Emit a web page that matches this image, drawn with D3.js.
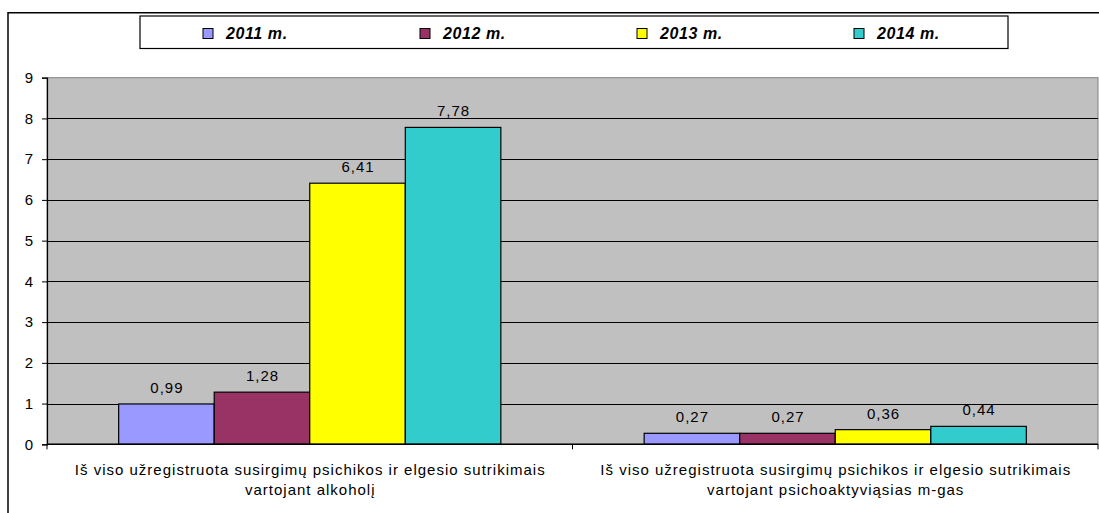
<!DOCTYPE html>
<html>
<head>
<meta charset="utf-8">
<script src="https://cdn.jsdelivr.net/npm/d3@7"></script>
<style>
  html, body { margin: 0; padding: 0; background: #fff; }
  svg { display: block; font-family: "Liberation Sans", Arial, sans-serif; }
</style>
</head>
<body>
<svg id="chart" width="1099" height="513"></svg>
<script>
const categories = [
  ["Iš viso užregistruota susirgimų psichikos ir elgesio sutrikimais", "vartojant alkoholį"],
  ["Iš viso užregistruota susirgimų psichikos ir elgesio sutrikimais", "vartojant psichoaktyviąsias m-gas"]
];
const seriesNames = ["2011 m.", "2012 m.", "2013 m.", "2014 m."];
const values2011 = [0.99, 0.27];
const values2012 = [1.28, 0.27];
const values2013 = [6.41, 0.36];
const values2014 = [7.78, 0.44];
const seriesColors = ["#9999FF", "#993366", "#FFFF00", "#33CCCC"];
const yTicks = [0, 1, 2, 3, 4, 5, 6, 7, 8, 9];

const seriesValues = [values2011, values2012, values2013, values2014];
const svg = d3.select("#chart");
const LS = 1.0; // letter spacing
const FS = 15;  // font size

// outer frame
svg.append("path")
  .attr("d", "M8,513 L8,12.7 L1099,12.7")
  .attr("fill", "none").attr("stroke", "#000").attr("stroke-width", 1.5);

const plot = { left: 47, right: 1098, top: 77.7, bottom: 444.3 };

const x0 = d3.scaleBand().domain(d3.range(categories.length))
  .range([plot.left, plot.right]).paddingInner(0).paddingOuter(0);
const x1 = d3.scaleBand().domain(d3.range(seriesNames.length))
  .range([0, x0.bandwidth()]).paddingInner(0).paddingOuter(0.75);
const y = d3.scaleLinear().domain([0, 9]).range([plot.bottom, plot.top]);

// plot background
svg.append("rect")
  .attr("x", plot.left).attr("y", plot.top)
  .attr("width", plot.right - plot.left).attr("height", plot.bottom - plot.top)
  .attr("fill", "#C0C0C0").attr("stroke", "#808080").attr("stroke-width", 1);

// gridlines
svg.append("g").selectAll("line").data(yTicks.filter(d => d > 0 && d < 9)).join("line")
  .attr("x1", plot.left).attr("x2", plot.right)
  .attr("y1", d => Math.round(y(d)) + 0.5).attr("y2", d => Math.round(y(d)) + 0.5)
  .attr("stroke", "#000").attr("stroke-width", 1);

// bars
const groups = svg.append("g").selectAll("g").data(categories).join("g")
  .attr("transform", (d, i) => `translate(${x0(i)},0)`);
groups.each(function(c, ci) {
  const g = d3.select(this);
  seriesValues.forEach((vals, si) => {
    g.append("rect")
      .attr("x", x1(si)).attr("y", y(vals[ci]))
      .attr("width", x1.bandwidth()).attr("height", y(0) - y(vals[ci]))
      .attr("fill", seriesColors[si]).attr("stroke", "#000").attr("stroke-width", 1.2);
    g.append("text")
      .attr("x", x1(si) + x1.bandwidth() / 2 + LS / 2).attr("y", y(vals[ci]) - 11)
      .attr("text-anchor", "middle").attr("font-size", FS).attr("fill", "#000")
      .attr("letter-spacing", LS)
      .text(String(vals[ci].toFixed(2)).replace(".", ","));
  });
});

// y axis
const yAxis = d3.axisLeft(y).tickValues(yTicks).tickSize(5).tickPadding(9)
  .tickFormat(d => d);
const ya = svg.append("g").attr("transform", `translate(${plot.left},0)`).call(yAxis);
ya.select(".domain").attr("stroke", "#000").attr("stroke-width", 1.2);
ya.selectAll(".tick line").attr("stroke", "#000");
ya.selectAll(".tick text").attr("font-size", FS).attr("fill", "#000")
  .attr("font-family", "'Liberation Sans', Arial, sans-serif");

// x axis line & ticks
svg.append("line").attr("x1", plot.left).attr("x2", plot.right)
  .attr("y1", plot.bottom).attr("y2", plot.bottom)
  .attr("stroke", "#000").attr("stroke-width", 1.5);
const xTickPos = [plot.left, ...d3.range(1, categories.length).map(i => x0(i)), plot.right];
svg.append("g").selectAll("line").data(xTickPos).join("line")
  .attr("x1", d => d).attr("x2", d => d)
  .attr("y1", plot.bottom).attr("y2", plot.bottom + 5)
  .attr("stroke", "#000").attr("stroke-width", 1);

// category labels
svg.append("g").selectAll("text").data(categories).join("text")
  .attr("x", (d, i) => x0(i) + x0.bandwidth() / 2 + LS / 2)
  .attr("y", 475)
  .attr("text-anchor", "middle").attr("font-size", FS).attr("fill", "#000")
  .attr("letter-spacing", LS)
  .each(function(lines) {
    const t = d3.select(this);
    lines.forEach((l, li) => {
      t.append("tspan").attr("x", t.attr("x")).attr("dy", li === 0 ? 0 : 19.5).text(l);
    });
  });

// legend
svg.append("rect").attr("x", 140).attr("y", 16).attr("width", 868).attr("height", 32.5)
  .attr("fill", "#fff").attr("stroke", "#000").attr("stroke-width", 1.2);
const legend = svg.append("g").selectAll("g").data(seriesNames).join("g")
  .attr("transform", (d, i) => `translate(${203 + i * 217},0)`);
legend.append("rect").attr("x", 0).attr("y", 28.5).attr("width", 10).attr("height", 10)
  .attr("fill", (d, i) => seriesColors[i]).attr("stroke", "#000").attr("stroke-width", 1);
legend.append("text").attr("x", 23).attr("y", 38.5).attr("font-size", 16)
  .attr("font-weight", "bold").attr("font-style", "italic").attr("fill", "#000")
  .attr("letter-spacing", 0.6)
  .text(d => d);
</script>
</body>
</html>
